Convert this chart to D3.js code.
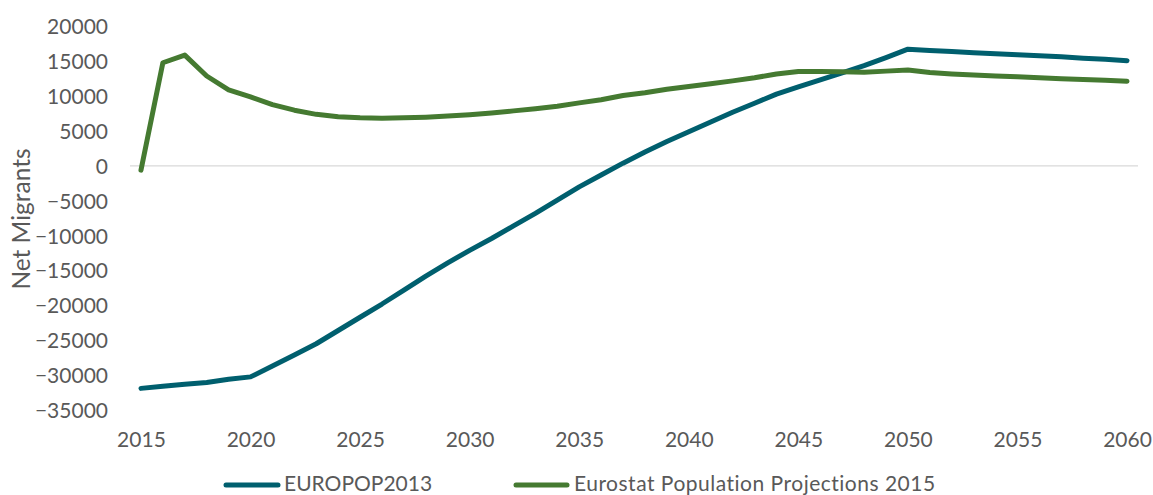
<!DOCTYPE html>
<html>
<head>
<meta charset="utf-8">
<script src="https://cdn.jsdelivr.net/npm/d3@7"></script>
<style>
  html, body { margin: 0; padding: 0; background: #ffffff; }
  svg { display: block; }
  text { font-family: Lato, "Open Sans", sans-serif; fill: #595959; }
</style>
</head>
<body>
<svg id="chart" width="1153" height="495"></svg>
<script>
// Years on the category axis
const years = d3.range(2015, 2061);

// Net migrants per year, EUROPOP2013 projection
const europop2013 = [
  -31900, -31600, -31300, -31050, -30600, -30250, -28700, -27100, -25500, -23600,
  -21700, -19800, -17800, -15800, -13900, -12100, -10400, -8600, -6800, -4900,
  -3000, -1300, 400, 2000, 3500, 4900, 6300, 7700, 9000, 10300,
  11350, 12350, 13350, 14400, 15550, 16750, 16550, 16400, 16250, 16100,
  15950, 15800, 15650, 15450, 15300, 15100
];

// Net migrants per year, Eurostat Population Projections 2015
const eurostat2015 = [
  -600, 14800, 15900, 12900, 10900, 9900, 8800, 8000, 7400, 7050,
  6900, 6850, 6900, 7000, 7150, 7350, 7600, 7900, 8200, 8550,
  9050, 9500, 10100, 10500, 11000, 11400, 11800, 12200, 12650, 13200,
  13550, 13550, 13500, 13450, 13600, 13750, 13400, 13200, 13050, 12900,
  12800, 12650, 12500, 12400, 12300, 12150
];

const xTickLabels = ["2015", "2020", "2025", "2030", "2035", "2040", "2045", "2050", "2055", "2060"];
const yTicks = d3.range(-35000, 20001, 5000);

const seriesNames = ["EUROPOP2013", "Eurostat Population Projections 2015"];
const seriesColors = ["#005f6e", "#457a31"];
const seriesData = [europop2013, eurostat2015];

const svg = d3.select("#chart");

const plotLeft = 130, plotRight = 1138;
const x = d3.scalePoint()
  .domain(years)
  .range([plotLeft, plotRight])
  .padding(0.5);

const y = d3.scaleLinear()
  .domain([-35000, 20000])
  .range([410, 26.5]);

// Zero reference line
svg.append("line")
  .attr("x1", plotLeft).attr("x2", plotRight)
  .attr("y1", y(0)).attr("y2", y(0))
  .attr("stroke", "#d9d9d9")
  .attr("stroke-width", 1.3);

// Y axis (labels only)
const yAxis = d3.axisLeft(y)
  .tickValues(yTicks)
  .tickSize(0)
  .tickPadding(0)
  .tickFormat(d3.format("d"));
const gy = svg.append("g")
  .attr("transform", "translate(108,0)")
  .call(yAxis);
gy.select(".domain").remove();
gy.selectAll("text")
  .attr("font-size", 21)
  .attr("dy", "0.35em")
  .style("font-family", "Lato, 'Open Sans', sans-serif")
  .attr("fill", "#595959");

// X axis (labels only)
const xAxis = d3.axisBottom(x)
  .tickValues(xTickLabels.map(Number))
  .tickSize(0)
  .tickPadding(0)
  .tickFormat(d => String(d));
const gx = svg.append("g")
  .attr("transform", "translate(0,432)")
  .call(xAxis);
gx.select(".domain").remove();
gx.selectAll("text")
  .attr("font-size", 21)
  .attr("dy", "0.71em")
  .style("font-family", "Lato, 'Open Sans', sans-serif")
  .attr("fill", "#595959");

// Axis title
svg.append("text")
  .attr("transform", "translate(30,219) rotate(-90)")
  .attr("text-anchor", "middle")
  .attr("font-size", 24.5)
  .text("Net Migrants");

// Series lines
const line = d3.line()
  .x((d, i) => x(years[i]))
  .y(d => y(d));

seriesData.forEach((vals, i) => {
  svg.append("path")
    .datum(vals)
    .attr("fill", "none")
    .attr("stroke", seriesColors[i])
    .attr("stroke-width", 5)
    .attr("stroke-linecap", "round")
    .attr("stroke-linejoin", "round")
    .attr("d", line);
});

// Legend
const legendItems = [
  { x1: 226, x2: 278, tx: 284, ls: 0 },
  { x1: 516, x2: 567, tx: 574, ls: 0.5 }
];
legendItems.forEach((it, i) => {
  svg.append("line")
    .attr("x1", it.x1).attr("x2", it.x2)
    .attr("y1", 485).attr("y2", 485)
    .attr("stroke", seriesColors[i])
    .attr("stroke-width", 5)
    .attr("stroke-linecap", "round");
  svg.append("text")
    .attr("x", it.tx)
    .attr("y", 483)
    .attr("dy", "0.36em")
    .attr("font-size", 21)
    .attr("letter-spacing", it.ls)
    .text(seriesNames[i]);
});
</script>
</body>
</html>
